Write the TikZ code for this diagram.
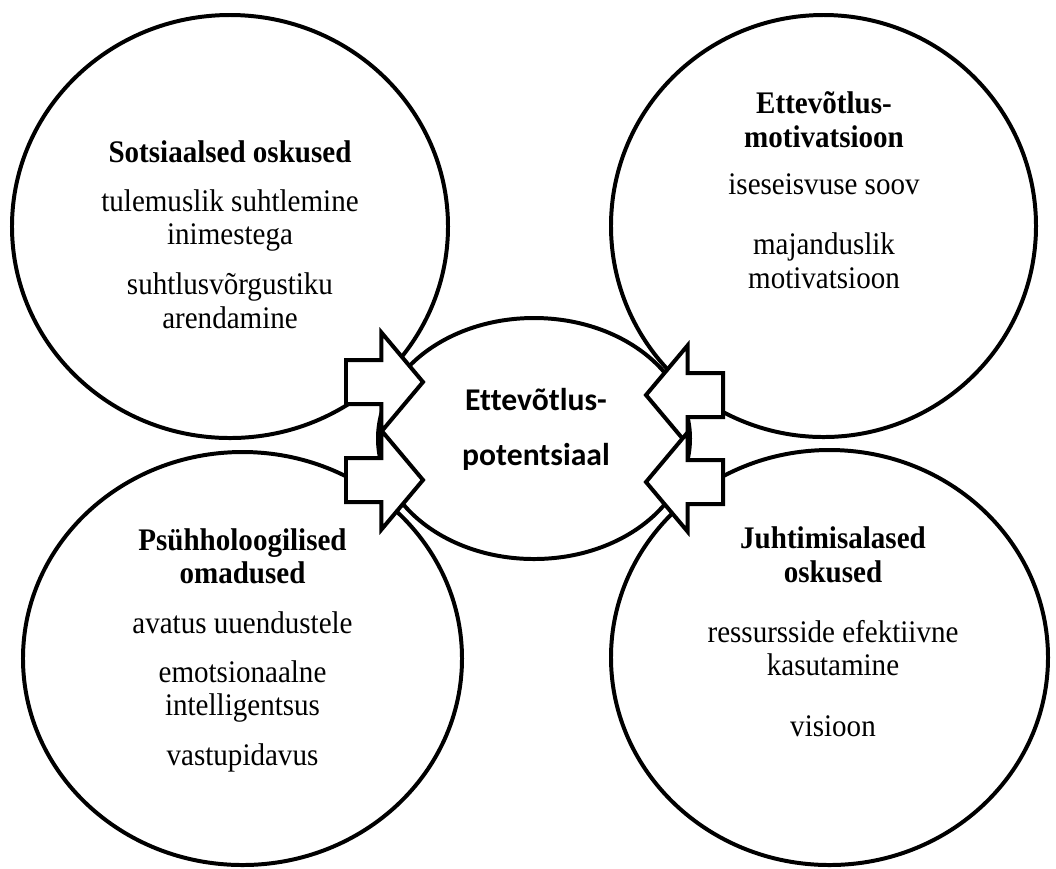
\documentclass[tikz,border=0pt]{standalone}
\usepackage{fontspec}
\setmainfont{Liberation Serif}[FakeStretch=0.925]
\newfontfamily\calfont[Ligatures=NoCommon]{Carlito}
\usetikzlibrary{shapes.geometric,shapes.arrows}

\begin{document}
\begin{tikzpicture}[x=0.015cm, y=-0.015cm,
    oval/.style={draw, ellipse, line width=1.7pt, fill=white, inner sep=0pt},
    blockarr/.style={draw, single arrow, line width=1.7pt, fill=white,
        inner sep=0pt, inner ysep=0.3cm, outer sep=0pt,
        minimum height=1.155cm, minimum width=0pt,
        single arrow head extend=0.4125cm, single arrow tip angle=100},
    txt/.style={align=center, anchor=base, font=\fontsize{13.4}{14.3}\selectfont}]
\useasboundingbox (0,0) rectangle (1056,868);
%
     \node [oval, minimum width=6.54cm, minimum height=6.345cm] at (230,226.5) (sots) {};
     \node [oval, minimum width=6.375cm, minimum height=6.33cm] at (823.5,226) (motiv) {};
     \node [oval, minimum width=6.585cm, minimum height=6.195cm] at (242.5,658.5) (psyh) {};
     \node [oval, minimum width=6.555cm, minimum height=6.225cm] at (829.5,657.5) (juht) {};
     \node [oval, minimum width=4.68cm, minimum height=3.615cm] at (534,438.5) (pot) {};
%
     \node [blockarr, anchor=tip] at (423,382) (sots arr) {};
     \node [blockarr, anchor=tip] at (423,480) (psyh arr) {};
     \node [blockarr, shape border rotate=180, anchor=tip] at (646,395) (motiv arr) {};
     \node [blockarr, shape border rotate=180, anchor=tip] at (646,482) (juht arr) {};
%
     % base = last line
     \node [txt] at (230,328) (sots txt) {\textbf{Sotsiaalsed oskused}\\[0.23cm]
         tulemuslik suhtlemine\\ inimestega\\[0.24cm] suhtlusvõrgustiku\\ arendamine};
     \node [txt] at (824,288) (motiv txt) {\textbf{Ettevõtlus-}\\ \textbf{motivatsioon}\\[0.21cm]
         iseseisvuse soov\\[0.39cm] majanduslik\\ motivatsioon};
     \node [txt] at (242.5,765) (psyh txt) {\textbf{Psühholoogilised}\\ \textbf{omadused}\\[0.24cm]
         avatus uuendustele\\[0.23cm] emotsionaalne\\ intelligentsus\\[0.24cm] vastupidavus};
     \node [txt] at (833,736) (juht txt) {\textbf{Juhtimisalased}\\ \textbf{oskused}\\[0.39cm]
         ressursside efektiivne\\ kasutamine\\[0.405cm] visioon};
     \node [txt, font=\calfont\bfseries\fontsize{13.5}{16.2}\selectfont] at (536,465) (pot txt)
         {Ettevõtlus-\\[0.255cm] potentsiaal};
\end{tikzpicture}
\end{document}
